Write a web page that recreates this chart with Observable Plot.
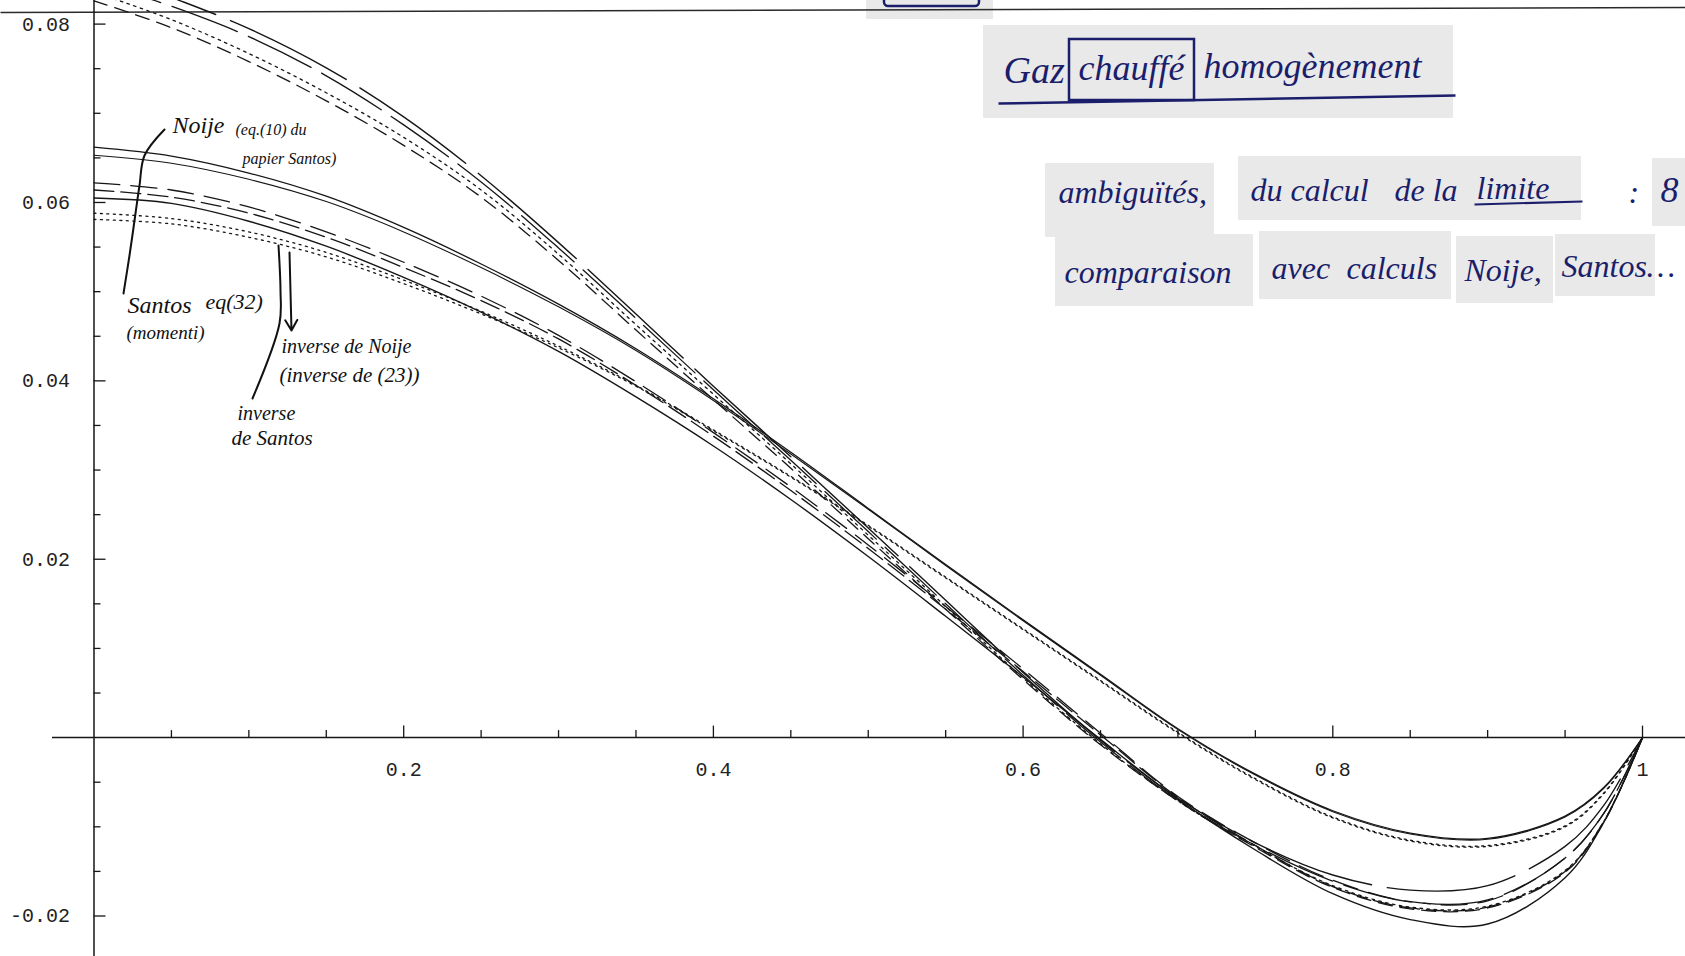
<!DOCTYPE html>
<html>
<head>
<meta charset="utf-8">
<script src="https://cdn.jsdelivr.net/npm/d3@7"></script>
<script src="https://cdn.jsdelivr.net/npm/@observablehq/plot@0.6"></script>
<style>
html, body { margin: 0; padding: 0; background: #ffffff; }
#chart { width: 1685px; height: 956px; overflow: hidden; }
</style>
</head>
<body>
<div id="chart"></div>
<script>
// ---------- data ----------
const xs = [0, 0.05, 0.1, 0.15, 0.2, 0.25, 0.3, 0.35, 0.4, 0.45, 0.5, 0.55, 0.6, 0.65, 0.7, 0.75, 0.8, 0.85, 0.9, 0.95, 0.975, 1];

// Noije (double solid line)
const noijeA = [0.0662, 0.0652, 0.0633, 0.0607, 0.0572, 0.0531, 0.0486, 0.0436, 0.0380, 0.0320, 0.0257, 0.0194, 0.0132, 0.0071, 0.0010, -0.0041, -0.0082, -0.0107, -0.0113, -0.0088, -0.0056, 0];
const noijeB = [0.0653, 0.0644, 0.0626, 0.0601, 0.0567, 0.0527, 0.0483, 0.0434, 0.0378, 0.0318, 0.0256, 0.0193, 0.0131, 0.0070, 0.0009, -0.0042, -0.0083, -0.0108, -0.0114, -0.0089, -0.0057, 0];
// lower bundle (Santos / inverses)
const dotA   = [0.0588, 0.0582, 0.0567, 0.0544, 0.0513, 0.0478, 0.0439, 0.0395, 0.0345, 0.0293, 0.0238, 0.0180, 0.0122, 0.0064, 0.0006, -0.0046, -0.0089, -0.0115, -0.0121, -0.0099, -0.0062, 0];
const dotB   = [0.0581, 0.0576, 0.0561, 0.0539, 0.0509, 0.0475, 0.0437, 0.0394, 0.0344, 0.0292, 0.0237, 0.0179, 0.0121, 0.0063, 0.0005, -0.0047, -0.0090, -0.0116, -0.0122, -0.0100, -0.0063, 0];
const dashA  = [0.0622, 0.0614, 0.0595, 0.0567, 0.0533, 0.0495, 0.0451, 0.0399, 0.0342, 0.0281, 0.0216, 0.0147, 0.0077, 0.0005, -0.0066, -0.0118, -0.0160, -0.0184, -0.0183, -0.0135, -0.0085, 0];
const dashB  = [0.0614, 0.0606, 0.0588, 0.0561, 0.0527, 0.0490, 0.0447, 0.0395, 0.0338, 0.0277, 0.0212, 0.0144, 0.0074, 0.0003, -0.0067, -0.0121, -0.0167, -0.0191, -0.0190, -0.0150, -0.0094, 0];
const solidC = [0.0605, 0.0599, 0.0579, 0.0551, 0.0516, 0.0477, 0.0433, 0.0382, 0.0327, 0.0267, 0.0203, 0.0136, 0.0068, -0.0002, -0.0069, -0.0126, -0.0175, -0.0204, -0.0209, -0.0157, -0.0095, 0];
// steep upper bundle
const topA = [0.0862, 0.0830, 0.0795, 0.0751, 0.0696, 0.0630, 0.0555, 0.0475, 0.0394, 0.0315, 0.0235, 0.0154, 0.0073, -0.0003, -0.0068, -0.0118, -0.0154, -0.0171, -0.0166, -0.0122, -0.0076, 0];
const topB = [0.0848, 0.0820, 0.0786, 0.0742, 0.0687, 0.0623, 0.0549, 0.0470, 0.0390, 0.0311, 0.0231, 0.0150, 0.0070, -0.0005, -0.0070, -0.0121, -0.0161, -0.0184, -0.0182, -0.0135, -0.0085, 0];
const topC = [0.0836, 0.0805, 0.0767, 0.0723, 0.0673, 0.0614, 0.0542, 0.0463, 0.0385, 0.0307, 0.0227, 0.0147, 0.0067, -0.0007, -0.0071, -0.0122, -0.0166, -0.0190, -0.0189, -0.0149, -0.0094, 0];
const topD = [0.0826, 0.0796, 0.0758, 0.0714, 0.0664, 0.0606, 0.0535, 0.0457, 0.0379, 0.0302, 0.0223, 0.0144, 0.0065, -0.0008, -0.0071, -0.0123, -0.0168, -0.0192, -0.0191, -0.0151, -0.0095, 0];

// axis ticks and labels
const xMinorTicks = [0.05, 0.1, 0.15, 0.2, 0.25, 0.3, 0.35, 0.4, 0.45, 0.5, 0.55, 0.6, 0.65, 0.7, 0.75, 0.8, 0.85, 0.9, 0.95, 1];
const xMajorTicks = [0.2, 0.4, 0.6, 0.8, 1];
const xTickLabels = ["0.2", "0.4", "0.6", "0.8", "1"];
const yMinorTicks = [-0.02, -0.015, -0.01, -0.005, 0.005, 0.01, 0.015, 0.02, 0.025, 0.03, 0.035, 0.04, 0.045, 0.05, 0.055, 0.06, 0.065, 0.07, 0.075, 0.08];
const yMajorTicks = [-0.02, 0.02, 0.04, 0.06, 0.08];
const yTickLabels = ["-0.02", "0.02", "0.04", "0.06", "0.08"];

// ---------- layout ----------
const W = 1685, H = 956, ML = 93.5, MR = 43, MT = 23.6, MB = 40.5;
const XD = [0, 1], YD = [-0.02, 0.08];
const pxX = (XD[1] - XD[0]) / (W - ML - MR);
const pxY = (YD[1] - YD[0]) / (H - MT - MB);
const dX = p => XD[0] + (p - ML) * pxX;     // page pixel -> data (for annotations)
const dY = p => YD[0] + (H - MB - p) * pxY;

const INK = "#161616";
const NAVY = "#1b1e6a";
const PATCH = "#e9e9ea";
const HAND = "'Liberation Serif', serif";
const MONO = "'Liberation Mono', 'DejaVu Sans Mono', monospace";

const series = [
  {v: noijeA, dash: null, w: 1.3},
  {v: noijeB, dash: null, w: 1.1},
  {v: dotA, dash: "2,4.5", w: 1.3},
  {v: dotB, dash: "2,4.5", w: 1.3},
  {v: dashA, dash: "26,11", w: 1.3},
  {v: dashB, dash: "20,7", w: 1.3},
  {v: solidC, dash: null, w: 1.4},
  {v: topA, dash: "130,16", w: 1.4},
  {v: topB, dash: "70,12", w: 1.3},
  {v: topC, dash: "2.5,4.5", w: 1.3},
  {v: topD, dash: "14,8", w: 1.3}
];

// annotation pieces (page-pixel anchors, converted through the scales)
const patches = [
  [983, 1453, 25, 118], [866, 993, 0, 19],
  [1045, 1214, 163, 237], [1238, 1581, 156, 220], [1652, 1685, 158, 226],
  [1055, 1253, 234, 306], [1259, 1451, 231, 299], [1456, 1553, 236, 303], [1555, 1655, 234, 296]
];
const navyTexts = [
  {t: "Gaz", X: 1003, Y: 70, s: 38},
  {t: "chauffé", X: 1078, Y: 68, s: 36},
  {t: "homogènement", X: 1203, Y: 66, s: 36},
  {t: "ambiguïtés,", X: 1058, Y: 192, s: 32},
  {t: "du calcul", X: 1250, Y: 190, s: 32},
  {t: "de la", X: 1394, Y: 190, s: 32},
  {t: "limite", X: 1476, Y: 188, s: 32},
  {t: ":", X: 1628, Y: 192, s: 32},
  {t: "8", X: 1660, Y: 190, s: 36},
  {t: "comparaison", X: 1064, Y: 272, s: 32},
  {t: "avec", X: 1271, Y: 268, s: 32},
  {t: "calculs", X: 1346, Y: 268, s: 32},
  {t: "Noije,", X: 1464, Y: 270, s: 32},
  {t: "Santos…", X: 1561, Y: 266, s: 32}
];
const inkTexts = [
  {t: "Noije", X: 172, Y: 125, s: 24, b: 400},
  {t: "(eq.(10) du", X: 235, Y: 129, s: 16, b: 400},
  {t: "papier Santos)", X: 242, Y: 158, s: 16, b: 400},
  {t: "Santos", X: 127, Y: 305, s: 24, b: 400},
  {t: "eq(32)", X: 205, Y: 301, s: 22, b: 400},
  {t: "(momenti)", X: 126, Y: 332, s: 19, b: 400},
  {t: "inverse de Noije", X: 281, Y: 346, s: 20, b: 400},
  {t: "(inverse de (23))", X: 279, Y: 375, s: 21, b: 400},
  {t: "inverse", X: 237, Y: 413, s: 20, b: 400},
  {t: "de Santos", X: 231, Y: 438, s: 21, b: 700}
];
const pointer1 = [[164, 129], [144, 155], [139, 185], [135, 213], [129, 255], [123, 293]];
const pointer2 = [[278, 245], [280, 290], [279, 323], [252, 398]];

const marks = [];

// grey scan patches behind the handwriting
marks.push(Plot.rect(patches, {
  x1: d => dX(d[0]), x2: d => dX(d[1]), y1: d => dY(d[3]), y2: d => dY(d[2]), fill: PATCH
}));

// scan line at top of page
marks.push(Plot.link([0], {x1: dX(0), y1: dY(12), x2: dX(1685), y2: dY(7), stroke: "#2a2a2a", strokeWidth: 1.6}));

// axes
marks.push(Plot.ruleY([0], {x1: dX(52), x2: dX(1685), stroke: INK, strokeWidth: 1.5}));
marks.push(Plot.ruleX([0], {y1: dY(0), y2: dY(956), stroke: INK, strokeWidth: 1.5}));
const isMajorX = d => Math.abs(d * 5 - Math.round(d * 5)) < 1e-9;
const isMajorY = d => Math.abs(d * 50 - Math.round(d * 50)) < 1e-9;
marks.push(Plot.ruleX(xMinorTicks, {x: d => d, y1: 0, y2: d => (isMajorX(d) ? 11.5 : 7) * pxY, stroke: INK, strokeWidth: 1.3}));
marks.push(Plot.ruleY(yMinorTicks, {y: d => d, x1: 0, x2: d => (isMajorY(d) ? 12 : 7) * pxX, stroke: INK, strokeWidth: 1.3}));
marks.push(Plot.text(xMajorTicks, {x: d => d, y: 0, text: (d, i) => xTickLabels[i], dy: 32, fontFamily: MONO, fontSize: 20, fill: "#222"}));
marks.push(Plot.text(yMajorTicks, {x: 0, y: d => d, text: (d, i) => yTickLabels[i], textAnchor: "end", dx: -24, fontFamily: MONO, fontSize: 20, fill: "#222"}));

// curves
for (const s of series) {
  const rows = xs.map((x, i) => ({x, y: s.v[i]}));
  marks.push(Plot.line(rows, {
    x: "x", y: "y", curve: "catmull-rom", stroke: INK, strokeWidth: s.w,
    strokeDasharray: s.dash ?? undefined
  }));
}

// handwritten annotations: navy, top right
marks.push(Plot.text(navyTexts, {
  x: d => dX(d.X), y: d => dY(d.Y), text: "t", textAnchor: "start", fontSize: d => d.s,
  fontFamily: HAND, fontStyle: "italic", fill: NAVY
}));
marks.push(Plot.rect([0], {x1: dX(1069), x2: dX(1194), y1: dY(100), y2: dY(39), fill: "none", stroke: NAVY, strokeWidth: 2.5}));
marks.push(Plot.rect([0], {x1: dX(884), x2: dX(979), y1: dY(6), y2: dY(-12), fill: "none", stroke: NAVY, strokeWidth: 2.5, rx: 4}));
marks.push(Plot.link([0], {x1: dX(998), y1: dY(103), x2: dX(1455), y2: dY(95), stroke: NAVY, strokeWidth: 2.5}));
marks.push(Plot.link([0], {x1: dX(1474), y1: dY(204), x2: dX(1582), y2: dY(201), stroke: NAVY, strokeWidth: 2}));

// handwritten annotations: black, left
marks.push(Plot.text(inkTexts, {
  x: d => dX(d.X), y: d => dY(d.Y), text: "t", textAnchor: "start", fontSize: d => d.s,
  fontWeight: d => d.b, fontFamily: HAND, fontStyle: "italic", fill: "#111"
}));
marks.push(Plot.line(pointer1, {x: d => dX(d[0]), y: d => dY(d[1]), curve: "catmull-rom", stroke: "#111", strokeWidth: 2}));
marks.push(Plot.line(pointer2, {x: d => dX(d[0]), y: d => dY(d[1]), curve: "catmull-rom", stroke: "#111", strokeWidth: 2}));
marks.push(Plot.arrow([0], {x1: dX(289), y1: dY(252), x2: dX(291), y2: dY(330), stroke: "#111", strokeWidth: 2, headLength: 9}));

const chart = Plot.plot({
  width: W, height: H,
  marginLeft: ML, marginRight: MR, marginTop: MT, marginBottom: MB,
  x: {domain: XD, axis: null},
  y: {domain: YD, axis: null},
  style: "background:#ffffff;overflow:hidden;",
  marks
});
document.getElementById("chart").appendChild(chart);
</script>
</body>
</html>
